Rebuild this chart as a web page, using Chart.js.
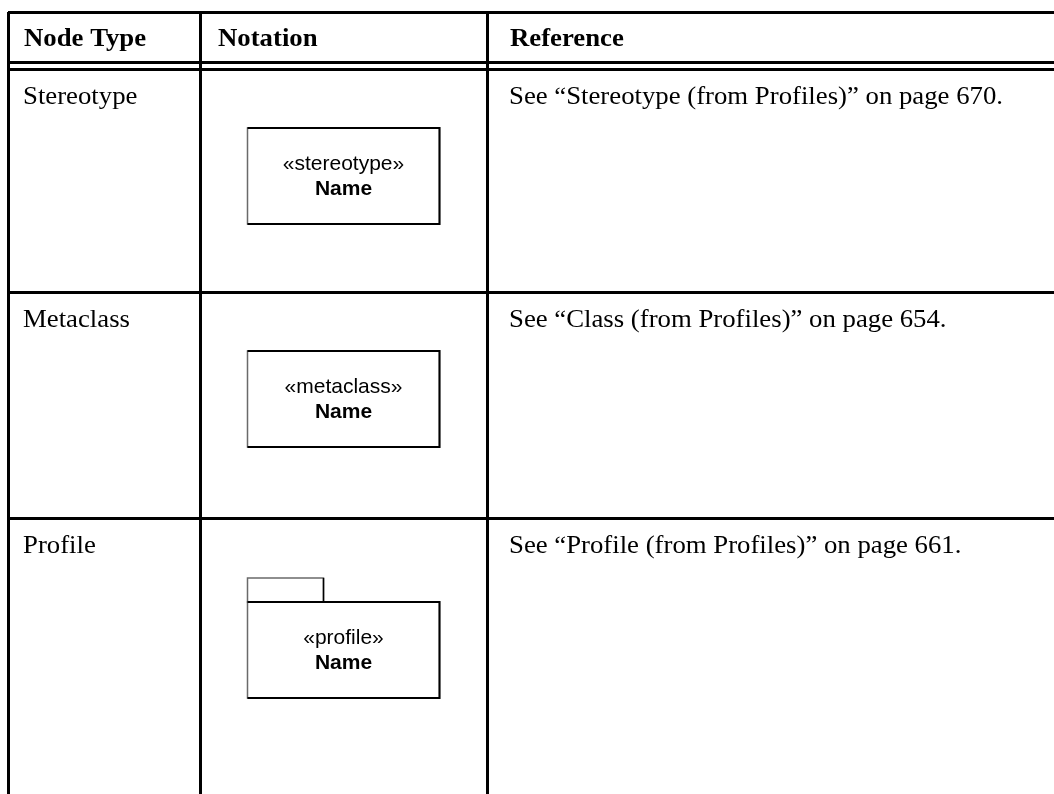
<!DOCTYPE html>
<html>
<head>
<meta charset="utf-8">
<script src="https://cdn.jsdelivr.net/npm/chart.js@4.4.1/dist/chart.umd.min.js"></script>
<style>
  html, body { margin: 0; padding: 0; background: #fff; }
  canvas { display: block; }
</style>
</head>
<body>
<canvas id="table" width="1054" height="794"></canvas>
<script>
// contenu du tableau
const headers = ["Node Type", "Notation", "Reference"];
const nodeTypes = ["Stereotype", "Metaclass", "Profile"];
const keywords = ["«stereotype»", "«metaclass»", "«profile»"];
const elementNames = ["Name", "Name", "Name"];
const shapes = ["class", "class", "package"];
const references = [
  "See “Stereotype (from Profiles)” on page 670.",
  "See “Class (from Profiles)” on page 654.",
  "See “Profile (from Profiles)” on page 661.",
];

// géométrie (unités de l'échelle)
const colEdges = [0, 192, 479];
const headerLines = [0, 50, 57];
const rowTops = [57, 280, 506];
const tableWidth = 1046;
const tableHeight = 782;
const textPad = [15, 17, 22];

const serif = '"Liberation Serif", "Times New Roman", serif';
const sans = '"Liberation Sans", Arial, sans-serif';

// le Times du document est un peu plus large
function wideText(ctx, txt, x, y) {
  ctx.save();
  ctx.translate(x, y);
  ctx.scale(1.07, 1);
  ctx.fillText(txt, 0, 0);
  ctx.restore();
}

const tablePlugin = {
  id: "tableCells",
  afterDraw: (chart) => {
    const { ctx } = chart;
    const xs = chart.scales.x;
    const ys = chart.scales.y;
    const px = (v) => xs.getPixelForValue(v);
    const py = (v) => ys.getPixelForValue(v);

    ctx.save();
    ctx.fillStyle = "#000";
    ctx.textBaseline = "alphabetic";

    // en-têtes
    ctx.font = "bold 25px " + serif;
    headers.forEach((h, i) => {
      wideText(ctx, h, px(colEdges[i]) + textPad[i] + 1, py(headerLines[0]) + 34);
    });

    // lignes
    rowTops.forEach((top, r) => {
      ctx.font = "25px " + serif;
      wideText(ctx, nodeTypes[r], px(colEdges[0]) + textPad[0], py(top) + 35);
      wideText(ctx, references[r], px(colEdges[2]) + textPad[2], py(top) + 35);

      // boîte de notation
      const cx = (px(colEdges[1]) + px(colEdges[2])) / 2;
      const bw = 192;
      const bh = 96;
      const left = cx - bw / 2;
      let boxTop = py(top) + 59;
      if (shapes[r] === "package") {
        boxTop += 25;
        ctx.strokeStyle = "#6a6a6a";
        ctx.lineWidth = 1.5;
        ctx.strokeRect(left, boxTop - 24, 76, 24);
        ctx.strokeStyle = "#000";
        ctx.beginPath();
        ctx.moveTo(left + 76, boxTop - 24);
        ctx.lineTo(left + 76, boxTop);
        ctx.stroke();
      }
      ctx.strokeStyle = "#6a6a6a";
      ctx.lineWidth = 1.5;
      ctx.strokeRect(left, boxTop, bw, bh);
      ctx.strokeStyle = "#000";
      ctx.lineWidth = 2;
      ctx.beginPath();
      ctx.moveTo(left, boxTop + bh);
      ctx.lineTo(left + bw, boxTop + bh);
      ctx.lineTo(left + bw, boxTop);
      ctx.lineTo(left, boxTop);
      ctx.stroke();

      ctx.textAlign = "center";
      ctx.textBaseline = "middle";
      ctx.font = "21px " + sans;
      ctx.fillText(keywords[r], cx, boxTop + bh / 2 - 12);
      ctx.font = "bold 21px " + sans;
      ctx.fillText(elementNames[r], cx, boxTop + bh / 2 + 13);
      ctx.textAlign = "left";
      ctx.textBaseline = "alphabetic";
    });
    ctx.restore();
  },
};

new Chart(document.getElementById("table").getContext("2d"), {
  type: "scatter",
  data: { datasets: [{ data: [] }] },
  options: {
    responsive: false,
    animation: false,
    events: [],
    layout: { padding: { left: 8, top: 12, right: 0, bottom: 0 } },
    plugins: { legend: { display: false }, tooltip: { enabled: false } },
    scales: {
      x: {
        type: "linear",
        min: 0,
        max: tableWidth,
        ticks: { display: false },
        border: { display: false },
        grid: { color: "#000", lineWidth: 3, drawTicks: false },
        afterBuildTicks: (scale) => {
          scale.ticks = colEdges.map((v) => ({ value: v }));
        },
      },
      y: {
        type: "linear",
        reverse: true,
        min: 0,
        max: tableHeight,
        ticks: { display: false },
        border: { display: false },
        grid: { color: "#000", lineWidth: 3, drawTicks: false },
        afterBuildTicks: (scale) => {
          scale.ticks = headerLines
            .concat(rowTops.slice(1))
            .map((v) => ({ value: v }));
        },
      },
    },
  },
  plugins: [tablePlugin],
});
</script>
</body>
</html>
